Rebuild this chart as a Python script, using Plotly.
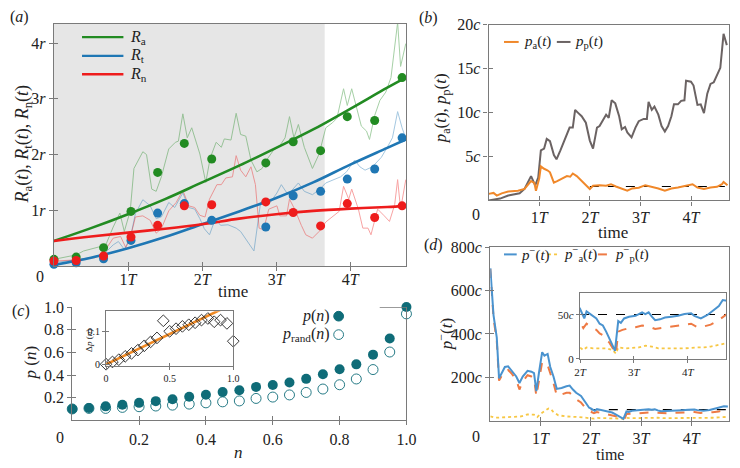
import plotly.graph_objects as go

# ================= DATA =================
# ---- panel (a) ----
a_dot_t = [0.0, 0.30, 0.67, 1.04, 1.40, 1.76, 2.13, 2.86, 3.23, 3.60, 3.96, 4.33, 4.70]
a_dot_Ra = [0.12, 0.16, 0.33, 0.98, 1.68, 2.20, 1.92, 1.85, 2.23, 2.07, 2.68, 2.61, 3.38]
a_dot_Rt = [0.03, 0.06, 0.13, 0.46, 0.95, 1.12, 0.82, 0.70, 1.26, 1.34, 1.56, 1.74, 2.30]
a_dot_Rn = [0.09, 0.10, 0.18, 0.52, 0.73, 1.08, 1.10, 1.15, 0.96, 0.72, 1.12, 0.87, 1.08]

a_fit_t = [0, 0.5, 1, 1.5, 2, 2.5, 3, 3.5, 4, 4.5, 4.75]
a_fit_Ra = [0.45, 0.68, 0.93, 1.20, 1.50, 1.80, 2.12, 2.45, 2.82, 3.20, 3.38]
a_fit_Rt = [0.02, 0.15, 0.32, 0.52, 0.75, 0.98, 1.22, 1.50, 1.82, 2.12, 2.27]
a_fit_Rn = [0.45, 0.53, 0.60, 0.67, 0.75, 0.85, 0.93, 0.99, 1.03, 1.06, 1.08]

a_raw_Ra_t = [0, 0.1, 0.2, 0.3, 0.4, 0.5, 0.6, 0.7, 0.8, 0.89, 0.95, 1.03, 1.08, 1.2, 1.25, 1.32,
              1.38, 1.45, 1.55, 1.64, 1.68, 1.74, 1.8, 1.86, 1.97, 2.05, 2.11, 2.19, 2.26, 2.3,
              2.39, 2.46, 2.52, 2.59, 2.66, 2.74, 2.81, 2.87, 2.96, 3.05, 3.12, 3.18, 3.24, 3.3,
              3.38, 3.49, 3.58, 3.67, 3.76, 3.82, 3.91, 3.96, 4.02, 4.15, 4.22, 4.26, 4.33, 4.4,
              4.48, 4.55, 4.64, 4.68, 4.75]
a_raw_Ra = [0.12, 0.15, 0.17, 0.20, 0.27, 0.30, 0.34, 0.38, 0.70, 0.95, 0.62, 0.99, 1.75, 2.05, 2.00, 1.38,
            1.34, 1.60, 2.10, 2.22, 2.24, 2.73, 2.30, 2.48, 2.01, 1.50, 1.94, 2.22, 2.13, 2.28,
            2.26, 2.74, 2.36, 2.33, 1.90, 1.69, 1.75, 1.90, 2.07, 2.16, 2.30, 2.68, 2.30, 2.54,
            2.13, 1.75, 2.01, 2.48, 2.57, 2.65, 3.18, 2.88, 3.18, 2.51, 2.42, 2.27, 2.70, 2.97,
            3.12, 3.38, 4.37, 3.58, 3.99]

a_raw_Rt_t = [0, 0.3, 0.5, 0.67, 0.8, 0.87, 0.95, 1.03, 1.1, 1.2, 1.3, 1.38, 1.45, 1.55, 1.63, 1.74,
              1.82, 1.9, 1.97, 2.03, 2.1, 2.18, 2.25, 2.35, 2.46, 2.52, 2.61, 2.7, 2.79, 2.85,
              2.92, 3.01, 3.07, 3.16, 3.3, 3.38, 3.49, 3.58, 3.67, 3.78, 3.87, 3.95, 4.06, 4.13,
              4.2, 4.3, 4.42, 4.5, 4.57, 4.64, 4.7, 4.76]
a_raw_Rt = [0.06, 0.12, 0.15, 0.21, 0.38, 0.44, 0.30, 0.50, 0.94, 1.19, 1.08, 0.85, 0.88, 1.14, 1.05, 1.31,
            1.05, 1.02, 0.85, 0.67, 0.56, 0.85, 0.73, 0.74, 0.68, 0.62, 0.44, 0.27, 1.14, 1.20,
            1.14, 1.31, 1.46, 1.28, 1.49, 1.34, 1.28, 1.37, 1.49, 1.55, 1.60, 1.69, 1.90, 1.78,
            1.72, 1.78, 1.95, 2.13, 2.30, 2.77, 2.48, 2.25]

a_raw_Rn_t = [0, 0.3, 0.55, 0.67, 0.8, 0.9, 0.97, 1.03, 1.1, 1.2, 1.3, 1.38, 1.45, 1.55, 1.65, 1.74,
              1.82, 1.9, 1.97, 2.04, 2.1, 2.2, 2.26, 2.32, 2.41, 2.46, 2.52, 2.59, 2.66, 2.72,
              2.77, 2.83, 2.9, 3.01, 3.05, 3.14, 3.18, 3.25, 3.34, 3.4, 3.49, 3.58, 3.67, 3.78,
              3.85, 3.91, 3.98, 4.02, 4.11, 4.17, 4.24, 4.28, 4.37, 4.46, 4.53, 4.6, 4.64, 4.68, 4.75]
a_raw_Rn = [0.09, 0.11, 0.15, 0.24, 0.50, 0.53, 0.33, 0.50, 0.88, 0.90, 0.82, 0.59, 0.67, 0.99, 1.14, 1.36,
            1.08, 1.05, 0.91, 0.88, 1.20, 1.46, 1.46, 1.58, 1.60, 1.98, 1.72, 1.60, 1.78, 1.46,
            0.68, 0.65, 1.02, 1.08, 0.90, 0.90, 1.20, 1.02, 0.73, 0.56, 0.50, 0.62, 0.79, 0.90,
            0.98, 1.43, 1.20, 1.38, 1.02, 0.68, 0.68, 0.56, 1.02, 0.90, 0.80, 1.10, 1.55, 1.02, 1.55]
a_shade_end = 3.655

# ---- panel (b) ----
b_pp_t = [0, 0.226, 0.387, 0.612, 0.709, 0.838, 0.92, 0.98, 1.032, 1.096, 1.148, 1.212, 1.29, 1.341,
          1.418, 1.515, 1.6, 1.663, 1.709, 1.773, 1.838, 1.921, 1.999, 2.063, 2.141, 2.192, 2.257,
          2.321, 2.373, 2.431, 2.502, 2.579, 2.63, 2.695, 2.74, 2.824, 2.901, 2.966, 3.063, 3.127,
          3.16, 3.224, 3.276, 3.353, 3.417, 3.482, 3.546, 3.611, 3.662, 3.74, 3.804, 3.869, 3.901,
          3.998, 4.049, 4.126, 4.191, 4.255, 4.32, 4.384, 4.449, 4.545, 4.578, 4.642, 4.707]
b_pp = [0, 0.2, 0.55, 0.8, 1.3, 2.76, 1.7, 2.6, 5.7, 5.9, 7.0, 6.74, 5.16, 4.68,
        5.7, 7.0, 8.29, 8.29, 10.3, 9.94, 9.58, 8.84, 6.81, 5.9, 8.29, 8.47, 9.2,
        9.76, 9.39, 11.4, 11.05, 9.58, 8.1, 8.36, 7.73, 7.18, 8.29, 9.02, 9.28, 9.28,
        11.23, 10.31, 10.68, 9.76, 8.47, 7.85, 8.47, 9.58, 10.94, 10.94, 11.34, 11.4, 13.63,
        13.52, 13.08, 10.87, 10.94, 9.94, 12.15, 13.26, 13.45, 14.73, 15.1, 18.97, 17.68]
b_pa_t = [0, 0.097, 0.161, 0.258, 0.387, 0.58, 0.709, 0.838, 0.903, 0.935, 1.0, 1.032, 1.096, 1.161,
          1.212, 1.289, 1.354, 1.451, 1.547, 1.612, 1.663, 1.741, 1.805, 1.902, 1.999, 2.063, 2.192,
          2.321, 2.418, 2.515, 2.643, 2.74, 2.837, 2.966, 3.095, 3.224, 3.353, 3.482, 3.611, 3.74,
          3.869, 4.03, 4.126, 4.255, 4.384, 4.513, 4.61, 4.642, 4.72]
b_pa = [0.74, 0.85, 0.55, 0.8, 1.0, 1.1, 1.3, 2.2, 2.0, 1.1, 2.5, 3.87, 3.6, 3.43,
        3.2, 2.03, 2.2, 2.5, 2.76, 2.69, 3.06, 2.76, 2.4, 1.84, 1.29, 1.66, 1.73,
        1.66, 1.84, 1.58, 1.29, 1.1, 1.36, 1.44, 1.73, 1.55, 1.36, 1.1, 1.36, 1.47,
        1.66, 1.84, 1.47, 1.29, 1.47, 1.55, 1.84, 2.1, 1.73]
b_ref_t = [2.0, 4.75]
b_ref_level = 1.58

# ---- panel (c) ----
c_n = [0, 0.05, 0.1, 0.15, 0.2, 0.25, 0.3, 0.35, 0.4, 0.45, 0.5,
       0.55, 0.6, 0.65, 0.7, 0.75, 0.8, 0.85, 0.9, 0.95, 1.0]
c_p = [0.100, 0.109, 0.123, 0.137, 0.154, 0.169, 0.186, 0.208, 0.226, 0.249, 0.266,
       0.295, 0.312, 0.334, 0.366, 0.407, 0.450, 0.494, 0.580, 0.722, 1.0]
c_prand = [0.100, 0.105, 0.105, 0.114, 0.120, 0.126, 0.134, 0.143, 0.154, 0.163, 0.171,
           0.193, 0.205, 0.224, 0.246, 0.276, 0.314, 0.365, 0.448, 0.603, 0.94]
c_dp = [0.0, 0.007, 0.014, 0.024, 0.033, 0.043, 0.056, 0.068, 0.080, 0.132, 0.100,
        0.108, 0.115, 0.120, 0.126, 0.134, 0.139, 0.129, 0.134, 0.124, 0.070]
c_fit_n = [0.0, 1.0]
c_fit_dp = [0.0, 0.184]

# ---- panel (d) ----
d_pm_t = [0, 0.064, 0.129, 0.174, 0.226, 0.290, 0.354, 0.419, 0.516, 0.580, 0.645, 0.741, 0.819,
          0.870, 0.916, 0.967, 1.032, 1.077, 1.141, 1.193, 1.257, 1.322, 1.418, 1.515, 1.579,
          1.644, 1.708, 1.805, 1.902, 1.967,
          2.0, 2.048, 2.079, 2.121, 2.182, 2.242, 2.303, 2.364, 2.424, 2.485, 2.545, 2.606, 2.648,
          2.709, 2.758, 2.818, 2.909, 3.030, 3.091, 3.152, 3.212, 3.273, 3.333, 3.394, 3.485,
          3.576, 3.697, 3.818, 3.939, 4.061, 4.121, 4.242, 4.364, 4.424, 4.515, 4.576, 4.648, 4.727]
d_pm = [703, 487, 383, 196, 219, 248, 251, 233, 204, 174, 204, 230, 226,
        219, 137, 219, 316, 300, 308, 248, 204, 147, 151, 159, 162,
        144, 129, 114, 84, 60,
        57, 49, 46, 54, 51, 48, 46, 40, 38, 31, 22, 15, 9,
        43, 41, 46, 48, 49, 51, 53, 51, 53, 48, 44, 45,
        47, 48, 49, 51, 52, 49, 46, 50, 53, 58, 60, 67, 66]
d_pp_t = [0, 0.064, 0.129, 0.174, 0.226, 0.290, 0.354, 0.419, 0.516, 0.580, 0.645, 0.741, 0.819,
          0.870, 0.916, 0.967, 1.032, 1.077, 1.141, 1.193, 1.257, 1.322, 1.418, 1.515, 1.579,
          1.644, 1.708, 1.805, 1.902, 1.967,
          2.0, 2.061, 2.121, 2.182, 2.242, 2.303, 2.364, 2.424, 2.485, 2.545, 2.606, 2.667, 2.709,
          2.788, 2.909, 3.030, 3.152, 3.273, 3.394, 3.515, 3.636, 3.758, 3.939, 4.061, 4.182,
          4.303, 4.424, 4.545, 4.636, 4.727]
d_pp = [699, 472, 368, 185, 207, 230, 234, 219, 189, 144, 181, 210, 204,
        196, 114, 189, 271, 263, 256, 219, 174, 117, 121, 129, 129,
        114, 99, 84, 57, 45,
        41, 35, 40, 37, 35, 33, 29, 27, 22, 18.5, 12, 6, 31,
        33, 35, 36, 38, 37, 34, 35, 36, 37, 39, 40, 36,
        37, 39, 43, 47, 51]
d_pa_t = [0, 0.097, 0.354, 0.613, 0.741, 0.870, 0.935, 0.999, 1.096, 1.161, 1.206, 1.257, 1.354,
          1.515, 1.773, 1.967,
          2.0, 2.061, 2.121, 2.242, 2.364, 2.485, 2.606, 2.667, 2.709, 2.848, 3.091, 3.212, 3.333,
          3.455, 3.697, 3.939, 4.182, 4.303, 4.424, 4.545, 4.667, 4.727]
d_pa = [20, 14, 17, 20, 29, 28, 17, 32, 47, 57, 54, 40, 25,
        20, 17, 14,
        13, 10, 13, 12, 12, 12, 10, 6, 13, 12, 13, 15, 14,
        12, 12, 12, 13, 13, 14, 15.5, 17, 18]
d_ref_t = [2.0, 4.75]
d_ref_level = 51
d_in_ref_level = 50.5

# tick labels
a_xt = [1, 2, 3, 4]
a_xl = ["1<i>T</i>", "2<i>T</i>", "3<i>T</i>", "4<i>T</i>"]
a_yt = [1, 2, 3, 4]
a_yl = ["1<i>r</i>", "2<i>r</i>", "3<i>r</i>", "4<i>r</i>"]
b_yt = [5, 10, 15, 20]
b_yl = ["5<i>c</i>", "10<i>c</i>", "15<i>c</i>", "20<i>c</i>"]
c_t = [0.2, 0.4, 0.6, 0.8, 1.0]
c_l = ["0.2", "0.4", "0.6", "0.8", "1.0"]
ci_xt = [0, 0.5, 1.0]
ci_xl = ["0", "0.5", "1.0"]
ci_yt = [0, 0.1]
ci_yl = ["0", "0.1"]
d_yt = [200, 400, 600, 800]
d_yl = ["200<i>c</i>", "400<i>c</i>", "600<i>c</i>", "800<i>c</i>"]
di_xt = [2, 3, 4]
di_xl = ["2<i>T</i>", "3<i>T</i>", "4<i>T</i>"]
di_yt = [0, 50]
di_yl = ["0", "50<i>c</i>"]

# ================= STYLE =================
W, H = 740, 468
FONT = "Liberation Serif, Times New Roman, Times, serif"
GREEN, BLUE, RED = "#228b22", "#1f77b4", "#ee1c1c"
ORANGE_B, GRAY_B = "#f0882a", "#6b6363"
BLUE_D, ORANGE_D, YELLOW_D = "#4a93cf", "#ee7a44", "#f7c744"
TEAL = "#0f6c78"
SPINE = "#7a7a7a"


def X(px):
    return px / W


def Y(py):
    return 1 - py / H


def aid(letter, i):
    return letter if i == 1 else f"{letter}{i}"


def lname(letter, i):
    return f"{letter}axis" if i == 1 else f"{letter}axis{i}"


layout_axes = {}
dummy = []


def make_axes(i, xdom, ydom, xr, yr, xtv, xtt, ytv, ytt, fs, tlen=4,
              xmirror=True, ymirror=True, xstand=0, ystand=0):
    j = i + 6
    common = dict(showgrid=False, zeroline=False, fixedrange=True)
    tf = dict(family=FONT, size=fs, color="#222")
    layout_axes[lname('x', i)] = dict(
        domain=xdom, range=xr, anchor=aid('y', i), tickmode='array', tickvals=xtv, ticktext=xtt,
        ticks='outside', ticklen=tlen, tickcolor=SPINE, tickwidth=1, showline=True, linecolor=SPINE,
        linewidth=1.3, mirror=xmirror, tickfont=tf, ticklabelstandoff=xstand, **common)
    layout_axes[lname('y', i)] = dict(
        domain=ydom, range=yr, anchor=aid('x', i), tickmode='array', tickvals=ytv, ticktext=ytt,
        ticks='outside', ticklen=tlen, tickcolor=SPINE, tickwidth=1, showline=True, linecolor=SPINE,
        linewidth=1.3, mirror=ymirror, tickfont=tf, ticklabelstandoff=ystand, **common)
    layout_axes[lname('x', j)] = dict(
        overlaying=aid('x', i), range=xr, anchor=aid('y', i), tickmode='array', tickvals=xtv,
        ticks='inside', ticklen=tlen, tickcolor=SPINE, tickwidth=1, showticklabels=False,
        showline=False, **common)
    layout_axes[lname('y', j)] = dict(
        overlaying=aid('y', i), range=yr, anchor=aid('x', i), tickmode='array', tickvals=ytv,
        ticks='inside', ticklen=tlen, tickcolor=SPINE, tickwidth=1, showticklabels=False,
        showline=False, **common)
    dummy.append(go.Scatter(x=[None], y=[None], xaxis=aid('x', j), yaxis=aid('y', i),
                            showlegend=False, hoverinfo='skip'))
    dummy.append(go.Scatter(x=[None], y=[None], xaxis=aid('x', i), yaxis=aid('y', j),
                            showlegend=False, hoverinfo='skip'))


# panel a (1), b (2), c (3), c-inset (4), d (5), d-inset (6)
make_axes(1, [X(49), X(409)], [Y(266), Y(16)], [0, 4.755], [0, 4.35], a_xt, a_xl, a_yt, a_yl, 16, xstand=-5)
make_axes(2, [X(493.3), X(739)], [Y(198.3), Y(17.3)], [0, 4.75], [0, 20], a_xt, a_xl, b_yt, b_yl, 16, xstand=-2)
make_axes(3, [X(67.7), X(409.3)], [Y(425), Y(308.3)], [0, 1], [0, 1], c_t, c_l, c_t, c_l, 16,
          xmirror=False, ymirror=True)
make_axes(4, [X(102.3), X(232.3)], [Y(369.3), Y(312.7)], [0, 1], [-0.006, 0.1606],
          ci_xt, ci_xl, ci_yt, ci_yl, 10, tlen=3)
make_axes(5, [X(495), X(739)], [Y(425.5), Y(246.5)], [0, 4.75], [0, 800], a_xt, a_xl, d_yt, d_yl, 16, xstand=-1)
make_axes(6, [X(586.7), X(736)], [Y(361.7), Y(293.3)], [2, 4.71], [0, 75.5],
          di_xt, di_xl, di_yt, di_yl, 11, tlen=3)

fig = go.Figure()

# ---- panel (a) ----
for tt, vv, col in [(a_raw_Ra_t, a_raw_Ra, GREEN), (a_raw_Rt_t, a_raw_Rt, BLUE), (a_raw_Rn_t, a_raw_Rn, RED)]:
    fig.add_trace(go.Scatter(x=tt, y=vv, mode='lines', line=dict(color=col, width=1), opacity=0.4,
                             xaxis='x', yaxis='y', showlegend=False, hoverinfo='skip'))
for vv, col in [(a_fit_Ra, GREEN), (a_fit_Rt, BLUE), (a_fit_Rn, RED)]:
    fig.add_trace(go.Scatter(x=a_fit_t, y=vv, mode='lines', line=dict(color=col, width=2.6, shape='spline'),
                             xaxis='x', yaxis='y', showlegend=False))
for vv, col in [(a_dot_Ra, GREEN), (a_dot_Rt, BLUE), (a_dot_Rn, RED)]:
    fig.add_trace(go.Scatter(x=a_dot_t, y=vv, mode='markers', marker=dict(color=col, size=9),
                             xaxis='x', yaxis='y', showlegend=False, cliponaxis=False))

# ---- panel (b) ----
fig.add_trace(go.Scatter(x=b_ref_t, y=[b_ref_level] * len(b_ref_t), mode='lines',
                         line=dict(color='black', width=1.2, dash='dash'), xaxis='x2', yaxis='y2'))
fig.add_trace(go.Scatter(x=b_pp_t, y=b_pp, mode='lines', line=dict(color=GRAY_B, width=2),
                         xaxis='x2', yaxis='y2'))
fig.add_trace(go.Scatter(x=b_pa_t, y=b_pa, mode='lines', line=dict(color=ORANGE_B, width=2),
                         xaxis='x2', yaxis='y2'))

# ---- panel (c) ----
fig.add_trace(go.Scatter(x=c_n, y=c_prand, mode='markers', cliponaxis=False,
                         marker=dict(symbol='circle-open', color=TEAL, size=10, line=dict(width=0.9)),
                         xaxis='x3', yaxis='y3'))
fig.add_trace(go.Scatter(x=c_n, y=c_p, mode='markers', cliponaxis=False,
                         marker=dict(color=TEAL, size=10), xaxis='x3', yaxis='y3'))
fig.add_trace(go.Scatter(x=c_fit_n, y=c_fit_dp, mode='lines', line=dict(color='#f08a24', width=2.6),
                         xaxis='x4', yaxis='y4'))
fig.add_trace(go.Scatter(x=c_n, y=c_dp, mode='markers', cliponaxis=False,
                         marker=dict(symbol='diamond-open', color='#222', size=9, line=dict(width=0.9)),
                         xaxis='x4', yaxis='y4'))

# ---- panel (d) ----
fig.add_trace(go.Scatter(x=d_ref_t, y=[d_ref_level] * len(d_ref_t), mode='lines',
                         line=dict(color='black', width=1.2, dash='dash'), xaxis='x5', yaxis='y5'))
fig.add_trace(go.Scatter(x=d_pa_t, y=d_pa, mode='lines', line=dict(color=YELLOW_D, width=1.8, dash='dot'),
                         xaxis='x5', yaxis='y5'))
fig.add_trace(go.Scatter(x=d_pp_t, y=d_pp, mode='lines', line=dict(color=ORANGE_D, width=2, dash='dash'),
                         xaxis='x5', yaxis='y5'))
fig.add_trace(go.Scatter(x=d_pm_t, y=d_pm, mode='lines', line=dict(color=BLUE_D, width=2),
                         xaxis='x5', yaxis='y5'))
# inset (d)
fig.add_trace(go.Scatter(x=d_ref_t, y=[d_in_ref_level] * len(d_ref_t), mode='lines',
                         line=dict(color='black', width=1.2, dash='dash'), xaxis='x6', yaxis='y6'))
fig.add_trace(go.Scatter(x=d_pa_t, y=d_pa, mode='lines', line=dict(color=YELLOW_D, width=1.8, dash='dot'),
                         xaxis='x6', yaxis='y6'))
fig.add_trace(go.Scatter(x=d_pp_t, y=d_pp, mode='lines', line=dict(color=ORANGE_D, width=2, dash='dash'),
                         xaxis='x6', yaxis='y6'))
fig.add_trace(go.Scatter(x=d_pm_t, y=d_pm, mode='lines', line=dict(color=BLUE_D, width=2),
                         xaxis='x6', yaxis='y6'))

for tr in dummy:
    fig.add_trace(tr)

# ================= SHAPES & ANNOTATIONS =================
shapes = [
    dict(type='rect', xref='x', yref='y domain', x0=0, x1=a_shade_end, y0=0, y1=1,
         fillcolor='#e6e6e6', line=dict(width=0), layer='below'),
    dict(type='line', xref='x3', yref='y3', x0=0.92, x1=1.0, y0=1.0, y1=1.0,
         line=dict(color=SPINE, width=1.3)),
]
annotations = []


def ann(text, px, py, size=16, xanchor='center', yanchor='middle', angle=0):
    annotations.append(dict(text=text, x=X(px), y=Y(py), xref='paper', yref='paper', showarrow=False,
                            xanchor=xanchor, yanchor=yanchor, textangle=angle,
                            font=dict(family=FONT, size=size, color='#222')))


def leg_line(x0, x1, py, color, dash='solid', width=2.4):
    shapes.append(dict(type='line', xref='paper', yref='paper', x0=X(x0), x1=X(x1), y0=Y(py), y1=Y(py),
                       line=dict(color=color, width=width, dash=dash)))


# panel labels
ann("(<i>a</i>)", 14, 9, 16)
ann("(<i>b</i>)", 432, 10, 16)
ann("(<i>c</i>)", 15, 312, 16)
ann("(<i>d</i>)", 437, 244, 16)

# corner zeros
ann("0", 35, 277, 16)
ann("0", 480, 213, 16)
ann("0", 55, 443, 16)
ann("0", 480, 442, 16)

# axis titles
ann("time", 232, 292, 17)
ann("<i>R</i><sub>a</sub>(<i>t</i>), <i>R</i><sub>t</sub>(<i>t</i>), <i>R</i><sub>n</sub>(<i>t</i>)",
    18, 141, 18, angle=-90)
ann("time", 620, 231, 17)
ann("<i>p</i><sub>a</sub>(<i>t</i>), <i>p</i><sub>p</sub>(<i>t</i>)", 446, 103, 17, angle=-90)
ann("<i>n</i>", 238, 458, 17)
ann("<i>p</i> (<i>n</i>)", 25, 365, 17, angle=-90)
ann("Δ<i>p</i> (<i>n</i>)", 85, 343, 9, angle=-90)
ann("time", 617, 460, 16)
ann("<i>p</i><sup>−</sup>(<i>t</i>)", 449, 336, 17, angle=-90)

# legend (a)
leg_line(77.7, 120, 30, GREEN)
leg_line(77.7, 120, 49.3, BLUE)
leg_line(77.7, 120, 68.3, RED)
ann("<i>R</i><sub>a</sub>", 125, 30, 16, xanchor='left')
ann("<i>R</i><sub>t</sub>", 125, 49.3, 16, xanchor='left')
ann("<i>R</i><sub>n</sub>", 125, 68.3, 16, xanchor='left')

# legend (b)
leg_line(509, 524, 35, ORANGE_B, width=2)
ann("<i>p</i><sub>a</sub>(<i>t</i>)", 527, 35, 15, xanchor='left')
leg_line(563, 577, 35, GRAY_B, width=2)
ann("<i>p</i><sub>p</sub>(<i>t</i>)", 580, 35, 15, xanchor='left')

# legend (c)
ann("<i>p</i>(<i>n</i>)", 333, 317.7, 16, xanchor='right')
ann("<i>p</i><sub>rand</sub>(<i>n</i>)", 333, 336.7, 16, xanchor='right')
shapes.append(dict(type='circle', xref='paper', yref='paper', x0=X(335), x1=X(345), y0=Y(322.7), y1=Y(312.7),
                   fillcolor=TEAL, line=dict(color=TEAL, width=1)))
shapes.append(dict(type='circle', xref='paper', yref='paper', x0=X(335), x1=X(345), y0=Y(341.7), y1=Y(331.7),
                   fillcolor='rgba(0,0,0,0)', line=dict(color=TEAL, width=0.9)))

# legend (d)
leg_line(509, 522, 254, BLUE_D, width=2)
ann("<i>p</i><sup>−</sup>(<i>t</i>)", 524, 254, 15, xanchor='left')
leg_line(554, 566, 254, YELLOW_D, dash='dot', width=1.8)
ann("<i>p</i><sup>−</sup><sub>a</sub>(<i>t</i>)", 568, 254, 15, xanchor='left')
leg_line(605, 618, 254, ORANGE_D, dash='dash', width=2)
ann("<i>p</i><sup>−</sup><sub>p</sub>(<i>t</i>)", 620, 254, 15, xanchor='left')

fig.update_layout(
    width=W, height=H, margin=dict(l=0, r=0, t=0, b=0),
    paper_bgcolor='white', plot_bgcolor='white', showlegend=False,
    font=dict(family=FONT, size=15, color='#222'),
    shapes=shapes, annotations=annotations, **layout_axes)

fig.write_html("out.html", config={'displayModeBar': False},
               post_script="document.body.style.margin='0';document.body.style.padding='0';"
                           "document.body.style.overflow='hidden';")
